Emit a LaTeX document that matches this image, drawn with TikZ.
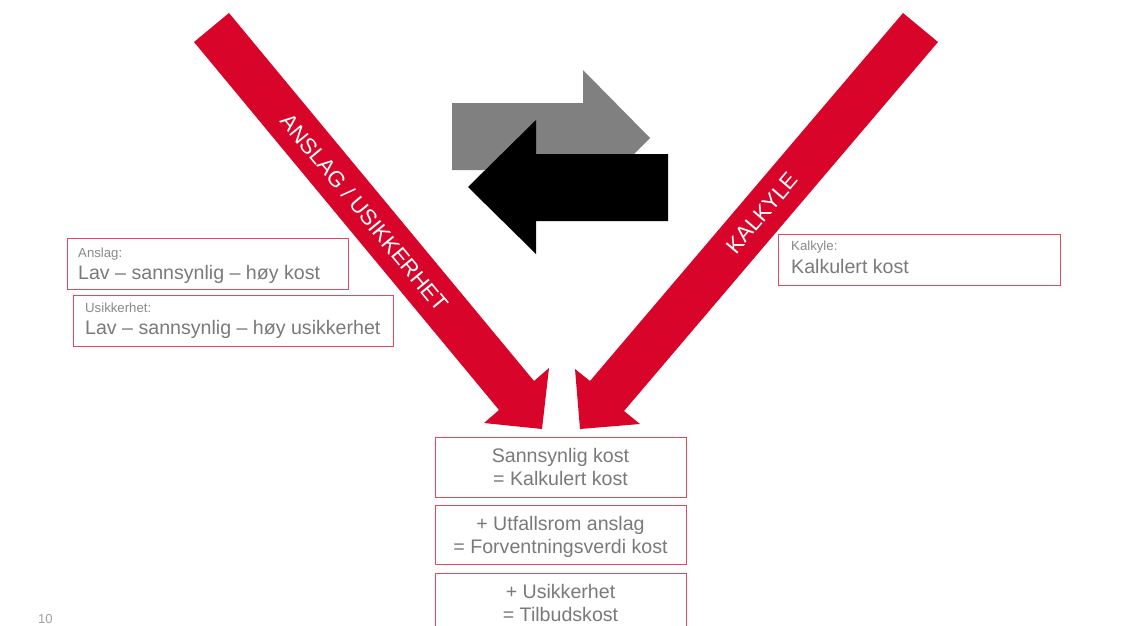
\documentclass[tikz,border=0pt]{standalone}
\usepackage{fontspec}
\setmainfont{Liberation Sans}
\definecolor{brandred}{RGB}{217,4,41}
\definecolor{boxred}{RGB}{226,72,94}
\definecolor{textgrey}{RGB}{122,122,122}
\definecolor{labelgrey}{RGB}{138,138,138}
\definecolor{swapgrey}{RGB}{128,128,128}
\begin{document}
\begin{tikzpicture}[x=1pt,y=-1pt,
  redarrow/.style={fill=brandred,draw=none},
  infobox/.style={draw=boxred,line width=1.2pt,inner sep=0pt,anchor=north west},
  maintext/.style={text=textgrey,font=\fontsize{19.6}{23}\selectfont,inner sep=0pt},
  labeltext/.style={text=labelgrey,font=\fontsize{13.2}{15}\selectfont,inner sep=0pt},
  arrowtext/.style={text=white,font=\fontsize{22}{26}\selectfont,inner sep=0pt},
  pagenum/.style={text=labelgrey!80,font=\fontsize{13}{15}\selectfont,inner sep=0pt}]
\useasboundingbox (0,0) rectangle (1137,625);
\clip (0,0) rectangle (1137,625);
\fill[white] (0,0) rectangle (1137,625);

% Two red arrows converging on the result boxes
\fill[redarrow] (194,42) -- (229,13) -- (534,381) -- (549,368) -- (542,429)
  -- (484,423) -- (499,410) -- cycle;
\fill[redarrow] (903,13) -- (938,42) -- (624,411) -- (640,424) -- (580,429)
  -- (575,369) -- (590,381) -- cycle;
\node[arrowtext,rotate=-50.4] (anslagtxt) at (364.6,212.3) {ANSLAG / USIKKERHET};
\node[arrowtext,rotate=49.6] (kalkyletxt) at (762,213) {KALKYLE};

% Swap arrows between the two methods
\fill[swapgrey] (452,103) -- (583,103) -- (583,70) -- (650,138) -- (583,205)
  -- (583,170) -- (452,170) -- cycle;
\fill[black] (668,154) -- (536,154) -- (536,120) -- (468,187) -- (536,254)
  -- (536,221) -- (668,221) -- cycle;

% Left info boxes
\node[infobox,minimum width=281pt,minimum height=51pt] (anslagbox) at (67,238) {};
\node[labeltext,anchor=base west] (anslaglbl) at (78,257) {Anslag:};
\node[maintext,anchor=base west] (anslagval) at (78,279) {Lav – sannsynlig – høy kost};

\node[infobox,minimum width=320pt,minimum height=51pt] (usikbox) at (73,295) {};
\node[labeltext,anchor=base west] (usiklbl) at (85,312) {Usikkerhet:};
\node[maintext,anchor=base west] (usikval) at (85,334) {Lav – sannsynlig – høy usikkerhet};

% Right info box
\node[infobox,minimum width=282pt,minimum height=51pt] (kalkbox) at (778,234) {};
\node[labeltext,anchor=base west] (kalklbl) at (791,250) {Kalkyle:};
\node[maintext,anchor=base west] (kalkval) at (791,273) {Kalkulert kost};

% Result boxes
\node[infobox,minimum width=251pt,minimum height=60pt] (sumbox) at (435,437) {};
\node[maintext,anchor=base] (sumA) at (560.5,462) {Sannsynlig kost};
\node[maintext,anchor=base] (sumB) at (560.5,485) {= Kalkulert kost};

\node[infobox,minimum width=251pt,minimum height=59pt] (utfbox) at (435,505) {};
\node[maintext,anchor=base] (utfA) at (560.5,530) {+ Utfallsrom anslag};
\node[maintext,anchor=base] (utfB) at (560.5,553) {= Forventningsverdi kost};

\node[infobox,minimum width=251pt,minimum height=70pt] (tilbbox) at (435,573) {};
\node[maintext,anchor=base] (tilbA) at (560.5,598) {+ Usikkerhet};
\node[maintext,anchor=base] (tilbB) at (560.5,621) {= Tilbudskost};

% Page number
\node[pagenum,anchor=base west] (page) at (38,623) {10};
\end{tikzpicture}
\end{document}
